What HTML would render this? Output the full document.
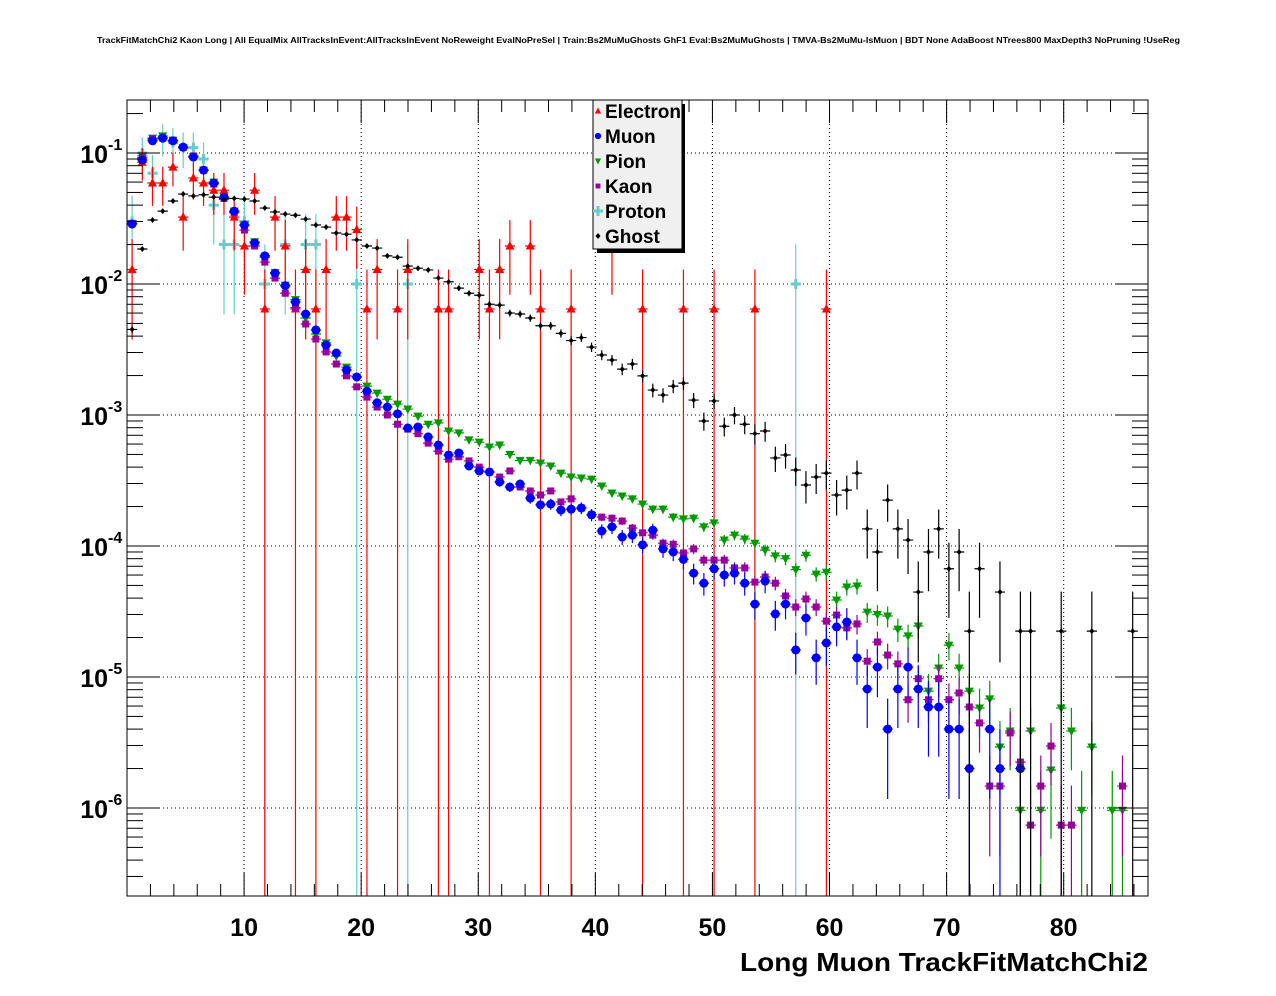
<!DOCTYPE html>
<html><head><meta charset="utf-8">
<style>
html,body{margin:0;padding:0;background:#fff;}
svg{display:block;font-family:"Liberation Sans",Arial,sans-serif;}
</style></head>
<body>
<svg id="chart" width="1276" height="996" viewBox="0 0 1276 996" xmlns="http://www.w3.org/2000/svg">
<rect x="0" y="0" width="1276" height="996" fill="#fff"/>
<text x="97" y="43" font-size="8.6" font-weight="bold" textLength="1083" lengthAdjust="spacingAndGlyphs">TrackFitMatchChi2 Kaon Long | All EqualMix AllTracksInEvent:AllTracksInEvent NoReweight EvalNoPreSel | Train:Bs2MuMuGhosts GhF1 Eval:Bs2MuMuGhosts | TMVA-Bs2MuMu-IsMuon | BDT None AdaBoost NTrees800 MaxDepth3 NoPruning !UseReg</text>
<defs><clipPath id="clip"><rect x="127" y="100" width="1021" height="796"/></clipPath></defs>
<g id="grid"></g>
<g id="series" clip-path="url(#clip)"></g>
<rect x="127" y="100" width="1021" height="796" fill="none" stroke="#000" stroke-width="1"/>
<g id="axes"></g>
<text x="1148" y="971" font-size="26" font-weight="bold" text-anchor="end" textLength="408" lengthAdjust="spacingAndGlyphs">Long Muon TrackFitMatchChi2</text>
<g id="legend"></g>
</svg>
<script>
const xTicks = [10,20,30,40,50,60,70,80];
const yDecades = [-1,-2,-3,-4,-5,-6];
const seriesNames = ["Electron","Muon","Pion","Kaon","Proton","Ghost"];
const electron = [1.29e-2,8.5e-2,5.9e-2,5.9e-2,7.8e-2,3.24e-2,6.45e-2,5.9e-2,5.2e-2,5.2e-2,
3.24e-2,1.95e-2,5.2e-2,6.45e-3,3.24e-2,1.95e-2,6.45e-3,1.29e-2,6.45e-3,1.29e-2,
3.24e-2,3.24e-2,2.6e-2,6.45e-3,1.29e-2,0,6.45e-3,1.29e-2,0,0,
6.45e-3,6.45e-3,0,0,1.29e-2,6.45e-3,1.29e-2,1.95e-2,0,1.95e-2,
6.45e-3,0,0,6.45e-3,0,0,0,1.95e-2,0,0,
6.45e-3,0,0,0,6.45e-3,0,0,6.45e-3,0,0,
0,6.45e-3,0,0,0,0,0,0,6.45e-3,0,
0,0,0,0,0,0,0,0,0,0,
0,0,0,0,0,0,0,0,0,0,
0,0,0,0,0,0,0,0,0,0];
const muon = [2.87e-2,8.85e-2,0.124,0.130,0.124,0.111,9.3e-2,7.4e-2,5.9e-2,4.6e-2,
3.6e-2,2.82e-2,2.06e-2,1.64e-2,1.21e-2,9.7e-3,7.3e-3,5.9e-3,4.46e-3,3.42e-3,
2.97e-3,2.21e-3,1.95e-3,1.52e-3,1.24e-3,1.15e-3,1.02e-3,7.96e-4,8.1e-4,6.8e-4,
5.9e-4,4.95e-4,5.13e-4,4.08e-4,3.74e-4,3.67e-4,3.08e-4,2.82e-4,2.97e-4,2.32e-4,
2.06e-4,2.09e-4,1.88e-4,1.91e-4,1.95e-4,1.73e-4,1.30e-4,1.40e-4,1.17e-4,1.21e-4,
1.02e-4,1.32e-4,9.5e-5,9.0e-5,7.9e-5,6.2e-5,5.2e-5,6.7e-5,6.0e-5,6.2e-5,
5.2e-5,3.6e-5,5.4e-5,3.03e-5,3.6e-5,1.61e-5,2.82e-5,1.40e-5,1.82e-5,2.41e-5,
2.63e-5,1.40e-5,8.1e-6,1.19e-5,4.0e-6,8.1e-6,1.19e-5,8.1e-6,5.9e-6,5.9e-6,
4.0e-6,4.0e-6,2.0e-6,0,4.0e-6,2.0e-6,0,2.0e-6,0,0,
0,0,0,0,0,0,0,0,0,0];
const pion = [2.9e-2,9.5e-2,0.13,0.135,0.125,0.11,9.3e-2,7.4e-2,6.0e-2,4.6e-2,
3.6e-2,2.82e-2,2.1e-2,1.6e-2,1.22e-2,9.8e-3,7.6e-3,5.5e-3,4.15e-3,3.55e-3,
2.82e-3,2.32e-3,1.95e-3,1.66e-3,1.47e-3,1.32e-3,1.21e-3,1.11e-3,9.8e-4,8.5e-4,
8.7e-4,7.55e-4,7.3e-4,6.45e-4,6.2e-4,5.7e-4,5.9e-4,5.0e-4,4.5e-4,4.5e-4,
4.3e-4,4.08e-4,3.6e-4,3.36e-4,3.3e-4,3.24e-4,2.87e-4,2.54e-4,2.41e-4,2.29e-4,
2.09e-4,1.91e-4,1.91e-4,1.66e-4,1.61e-4,1.63e-4,1.40e-4,1.5e-4,1.11e-4,1.21e-4,
1.13e-4,1.05e-4,9.3e-5,8.4e-5,8.0e-5,6.6e-5,8.5e-5,6.1e-5,6.3e-5,3.87e-5,
4.86e-5,4.95e-5,3.13e-5,3.0e-5,2.92e-5,2.32e-5,2.06e-5,2.45e-5,7.8e-6,1.17e-5,
1.75e-5,1.17e-5,7.8e-6,5.8e-6,6.8e-6,2.92e-6,3.87e-6,9.6e-7,3.87e-6,9.6e-7,
1.95e-6,5.8e-6,3.87e-6,9.6e-7,2.92e-6,0,9.6e-7,9.6e-7,0,0];
const kaon = [2.9e-2,9.2e-2,0.128,0.13,0.125,0.11,9.5e-2,7.4e-2,5.8e-2,4.5e-2,
3.5e-2,2.58e-2,1.95e-2,1.47e-2,1.11e-2,8.5e-3,6.6e-3,4.95e-3,3.8e-3,3.03e-3,
2.45e-3,1.99e-3,1.64e-3,1.37e-3,1.15e-3,1.0e-3,8.5e-4,7.8e-4,7.2e-4,6.1e-4,
5.3e-4,4.6e-4,4.8e-4,4.46e-4,4.0e-4,3.67e-4,3.36e-4,3.74e-4,2.82e-4,2.63e-4,
2.45e-4,2.63e-4,2.17e-4,2.29e-4,1.95e-4,1.73e-4,1.66e-4,1.63e-4,1.55e-4,1.37e-4,
1.26e-4,1.21e-4,1.05e-4,1.03e-4,8.85e-5,9.5e-5,7.8e-5,7.8e-5,7.8e-5,6.8e-5,
6.8e-5,5.3e-5,5.8e-5,5.2e-5,4.15e-5,3.42e-5,3.94e-5,3.42e-5,2.67e-5,2.97e-5,
2.37e-5,2.54e-5,1.32e-5,1.85e-5,1.47e-5,1.26e-5,6.7e-6,9.7e-6,6.7e-6,9.7e-6,
6.7e-6,7.55e-6,5.9e-6,4.46e-6,1.47e-6,1.47e-6,3.74e-6,2.24e-6,7.4e-7,1.47e-6,
2.97e-6,7.4e-7,7.4e-7,0,0,0,0,1.47e-6,0,0];
const proton = [3e-2,0.1,7e-2,0.13,0.12,0.11,0.11,9e-2,4e-2,2e-2,
2e-2,3e-2,0,1e-2,0,2e-2,0,2e-2,2e-2,0,
0,0,1e-2,0,0,0,0,1e-2,0,0,
0,0,0,0,0,0,0,0,0,0,
0,0,0,0,0,0,0,0,0,0,
0,0,0,0,0,0,0,0,0,0,
0,0,0,0,0,1e-2,0,0,0,0,
0,0,0,0,0,0,0,0,0,0,
0,0,0,0,0,0,0,0,0,0,
0,0,0,0,0,0,0,0,0,0];
const ghost = [4.5e-3,1.85e-2,3.08e-2,3.6e-2,4.3e-2,4.86e-2,4.7e-2,4.8e-2,4.6e-2,4.45e-2,
4.5e-2,4.45e-2,4.3e-2,3.8e-2,3.55e-2,3.42e-2,3.35e-2,3.13e-2,2.82e-2,2.72e-2,
2.45e-2,2.4e-2,2.17e-2,1.95e-2,1.88e-2,1.64e-2,1.6e-2,1.37e-2,1.32e-2,1.28e-2,
1.11e-2,1.04e-2,9.3e-3,8.5e-3,8.2e-3,7.0e-3,6.9e-3,6.0e-3,5.9e-3,5.5e-3,
4.8e-3,4.8e-3,4.2e-3,3.7e-3,3.9e-3,3.3e-3,2.87e-3,2.63e-3,2.24e-3,2.45e-3,
1.99e-3,1.55e-3,1.42e-3,1.66e-3,1.75e-3,1.3e-3,9.0e-4,1.28e-3,8.2e-4,1.0e-3,
8.5e-4,7.2e-4,7.55e-4,4.7e-4,4.95e-4,3.8e-4,2.92e-4,3.36e-4,3.6e-4,2.45e-4,
2.67e-4,3.6e-4,1.35e-4,9.0e-5,2.24e-4,1.35e-4,1.11e-4,4.45e-5,9.0e-5,1.35e-4,
6.7e-5,9.0e-5,2.24e-5,6.7e-5,0,4.45e-5,0,2.24e-5,2.24e-5,0,
0,2.24e-5,0,0,2.24e-5,0,0,0,2.24e-5,0];
const unitWeights = [6.45e-3,2.0e-6,9.6e-7,7.4e-7,1.0e-2,2.24e-5];

const NS="http://www.w3.org/2000/svg";
const X0=127,X1=1148,Y0=100,Y1=896,XMAX=87.2,NB=100;
const LMIN=-6.672,LMAX=-0.5954;
function px(x){return X0+(x/XMAX)*(X1-X0);}
function py(v){return Y1-(Math.log10(v)-LMIN)/(LMAX-LMIN)*(Y1-Y0);}
function mk(tag,attrs,parent){const e=document.createElementNS(NS,tag);for(const k in attrs)e.setAttribute(k,attrs[k]);parent.appendChild(e);return e;}

const grid=document.getElementById('grid');
const axes=document.getElementById('axes');
// grid lines
xTicks.forEach(t=>{
  const l=mk('line',{x1:px(t),x2:px(t),y1:Y0,y2:Y1,stroke:'#000','stroke-width':1,'stroke-dasharray':'1,3'},grid);
  
  
});
yDecades.forEach(d=>{
  const y=py(Math.pow(10,d));
  const l=mk('line',{x1:X0,x2:X1,y1:y,y2:y,stroke:'#000','stroke-width':1,'stroke-dasharray':'1,3'},grid);
  
  
});
// x ticks
for(let t=2;t<=86;t+=2){
  const major=(t%10===0);const len=major?23:12;const x=px(t);
  const a=mk('line',{x1:x,x2:x,y1:Y1,y2:Y1-len,stroke:'#000','stroke-width':1},axes);
  
  
  const b=mk('line',{x1:x,x2:x,y1:Y0,y2:Y0+len,stroke:'#000','stroke-width':1},axes);
  
  
}
xTicks.forEach(t=>{
  const tx=mk('text',{x:px(t),y:936,'font-size':25,'font-weight':'bold','text-anchor':'middle'},axes);
  tx.textContent=String(t);
  
  
});
// y ticks
for(let d=-7;d<=0;d++){
  for(let k=1;k<=9;k++){
    const v=k*Math.pow(10,d);const y=py(v);
    if(y<Y0||y>Y1)continue;
    const len=(k===1)?32:16;
    const a=mk('line',{x1:X0,x2:X0+len,y1:y,y2:y,stroke:'#000','stroke-width':1},axes);
    
    
    const b=mk('line',{x1:X1,x2:X1-len,y1:y,y2:y,stroke:'#000','stroke-width':1},axes);
    
    
  }
}
yDecades.forEach(d=>{
  const y=py(Math.pow(10,d));
  const tx=mk('text',{x:108,y:y+10,'font-size':25,'font-weight':'bold','text-anchor':'end'},axes);
  tx.textContent='10';
  
  
  const sp=mk('text',{x:108,y:y-3,'font-size':16,'font-weight':'bold'},axes);
  sp.textContent=String(d);
  
  
});

// series
const colors=['#ff0000','#0000ff','#009900','#990099','#66cccc','#000000'];
const datasets=[electron,muon,pion,kaon,proton,ghost];
const layer=document.getElementById('series');
function marker(kind,x,y,c,g){
  let e;
  if(kind===0) e=mk('polygon',{points:`${x},${y-5} ${x-4.5},${y+3.5} ${x+4.5},${y+3.5}`,fill:c},g);
  else if(kind===1) e=mk('circle',{cx:x,cy:y,r:4.5,fill:c},g);
  else if(kind===2) e=mk('polygon',{points:`${x-4.5},${y-3.5} ${x+4.5},${y-3.5} ${x},${y+5}`,fill:c},g);
  else if(kind===3) e=mk('rect',{x:x-3.5,y:y-3.5,width:7,height:7,fill:c},g);
  else if(kind===4) e=mk('path',{d:`M${x-5},${y}H${x+5}M${x},${y-5}V${y+5}`,stroke:c,'stroke-width':3},g);
  else e=mk('path',{d:`M${x},${y-3}L${x+2.5},${y}L${x},${y+3}L${x-2.5},${y}Z`,fill:c},g);
  return e;
}
const order=[4,0,2,3,1,5];
order.forEach(s=>{
  const g=mk('g',{},layer);
  
  
  const vals=datasets[s],w=unitWeights[s],c=colors[s];
  vals.forEach((v,i)=>{
    if(!(v>0))return;
    const x=px((i+0.5)*XMAX/NB),hw=0.5*(X1-X0)/NB;
    const err=Math.sqrt(v*w);
    const yv=py(v),yu=py(v+err);
    const lo=v-err;const yl=(lo>v*1e-3)?py(lo):Y1+5;
    const eb=mk('path',{d:`M${x},${yu}V${yl}M${x-hw},${yv}H${x+hw}`,stroke:c,'stroke-width':1.2,fill:'none'},g);
    
    
    const m=marker(s,x,yv,c,g);
    
    
  });
});

// legend
const lg=document.getElementById('legend');
const sh=mk('rect',{x:597,y:104,width:88,height:149,fill:'#000'},lg);


const box=mk('rect',{x:593,y:100,width:89,height:149,fill:'#f0f0f0',stroke:'#000','stroke-width':1},lg);


seriesNames.forEach((n,i)=>{
  const y=111+i*25;
  const g=mk('g',{},lg);
  
  
  const m=marker(i,598,y,colors[i],g);
  if(i!==4&&i!==5) m.setAttribute('transform',`translate(598,${y}) scale(0.7) translate(-598,${-y})`);
  const t=mk('text',{x:605,y:y+7,'font-size':19,'font-weight':'bold'},g);
  t.textContent=n;
  
  
});
</script>
</body></html>
